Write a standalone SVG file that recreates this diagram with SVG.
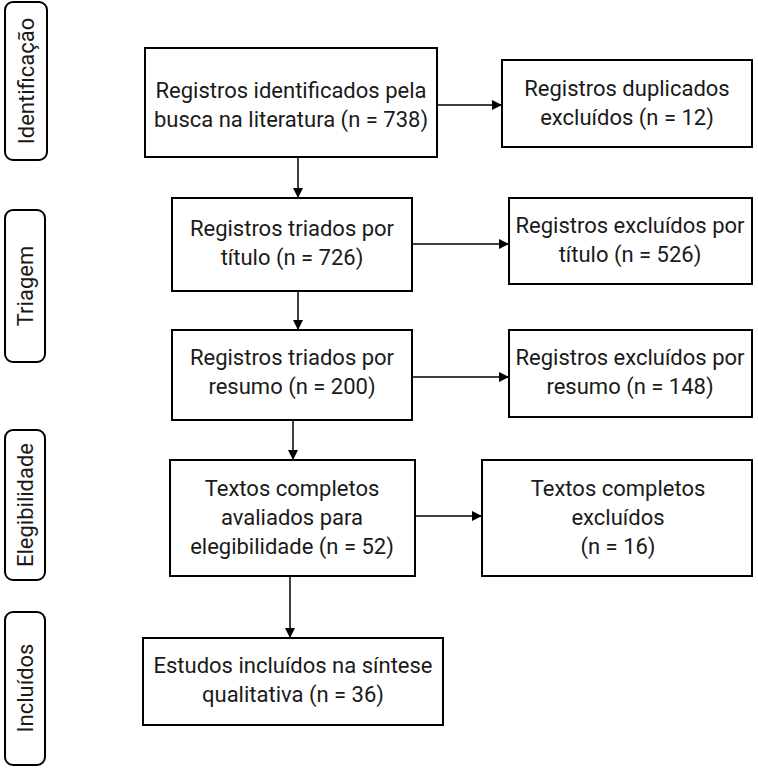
<svg xmlns="http://www.w3.org/2000/svg" width="758" height="769" viewBox="0 0 758 769">
<defs><marker id="a" viewBox="0 0 10 10" refX="10" refY="5" markerWidth="10" markerHeight="10" markerUnits="userSpaceOnUse" orient="auto"><path d="M0,0L10,5L0,10z" fill="#000"/></marker></defs>
<style>
rect{fill:#fff;stroke:#000;stroke-width:2}
text{font-family:"Liberation Sans Narrow","Roboto","Liberation Sans",sans-serif;font-size:22px;text-anchor:middle;fill:#1a1a1a}
line{stroke:#000;stroke-width:1.5;marker-end:url(#a)}
</style>
<rect width="758" height="769" style="stroke:none"/>
<g id="s1"><rect x="5" y="2" width="42" height="158" rx="8"/><text transform="translate(34,81) rotate(-90)">Identificação</text></g>
<g id="s2"><rect x="5" y="210" width="40" height="152" rx="8"/><text transform="translate(33,286) rotate(-90)">Triagem</text></g>
<g id="s3"><rect x="5" y="430" width="40" height="150" rx="8"/><text transform="translate(33,505) rotate(-90)">Elegibilidade</text></g>
<g id="s4"><rect x="5" y="612" width="40" height="153" rx="8"/><text transform="translate(33,688) rotate(-90)">Incluídos</text></g>
<g id="n1"><rect x="145" y="48" width="292" height="109"/><text x="291" y="98">Registros identificados pela</text><text x="291" y="127">busca na literatura (n = 738)</text></g>
<g id="n2"><rect x="502" y="60" width="250" height="87"/><text x="627" y="96">Registros duplicados</text><text x="627" y="125">excluídos (n = 12)</text></g>
<g id="n3"><rect x="172" y="198" width="240" height="93"/><text x="292" y="236">Registros triados por</text><text x="292" y="265">título (n = 726)</text></g>
<g id="n4"><rect x="509" y="198" width="243" height="86"/><text x="630" y="233">Registros excluídos por</text><text x="630" y="262">título (n = 526)</text></g>
<g id="n5"><rect x="172" y="330" width="240" height="90"/><text x="292" y="365">Registros triados por</text><text x="292" y="394">resumo (n = 200)</text></g>
<g id="n6"><rect x="509" y="330" width="243" height="87"/><text x="630" y="365">Registros excluídos por</text><text x="630" y="394">resumo (n = 148)</text></g>
<g id="n7"><rect x="170" y="460" width="245" height="116"/><text x="292" y="496">Textos completos</text><text x="292" y="525">avaliados para</text><text x="292" y="554">elegibilidade (n = 52)</text></g>
<g id="n8"><rect x="482" y="460" width="270" height="116"/><text x="618" y="496">Textos completos</text><text x="618" y="525">excluídos</text><text x="618" y="554">(n = 16)</text></g>
<g id="n9"><rect x="143" y="638" width="300" height="87"/><text x="293" y="673">Estudos incluídos na síntese</text><text x="293" y="702">qualitativa (n = 36)</text></g>
<g id="edges">
<line x1="298" y1="157" x2="298" y2="198"/>
<line x1="298" y1="291" x2="298" y2="330"/>
<line x1="293" y1="420" x2="293" y2="460"/>
<line x1="290" y1="576" x2="290" y2="638"/>
<line x1="437" y1="105" x2="502" y2="105"/>
<line x1="412" y1="244" x2="509" y2="244"/>
<line x1="412" y1="377" x2="509" y2="377"/>
<line x1="415" y1="516" x2="482" y2="516"/>
</g>
</svg>
